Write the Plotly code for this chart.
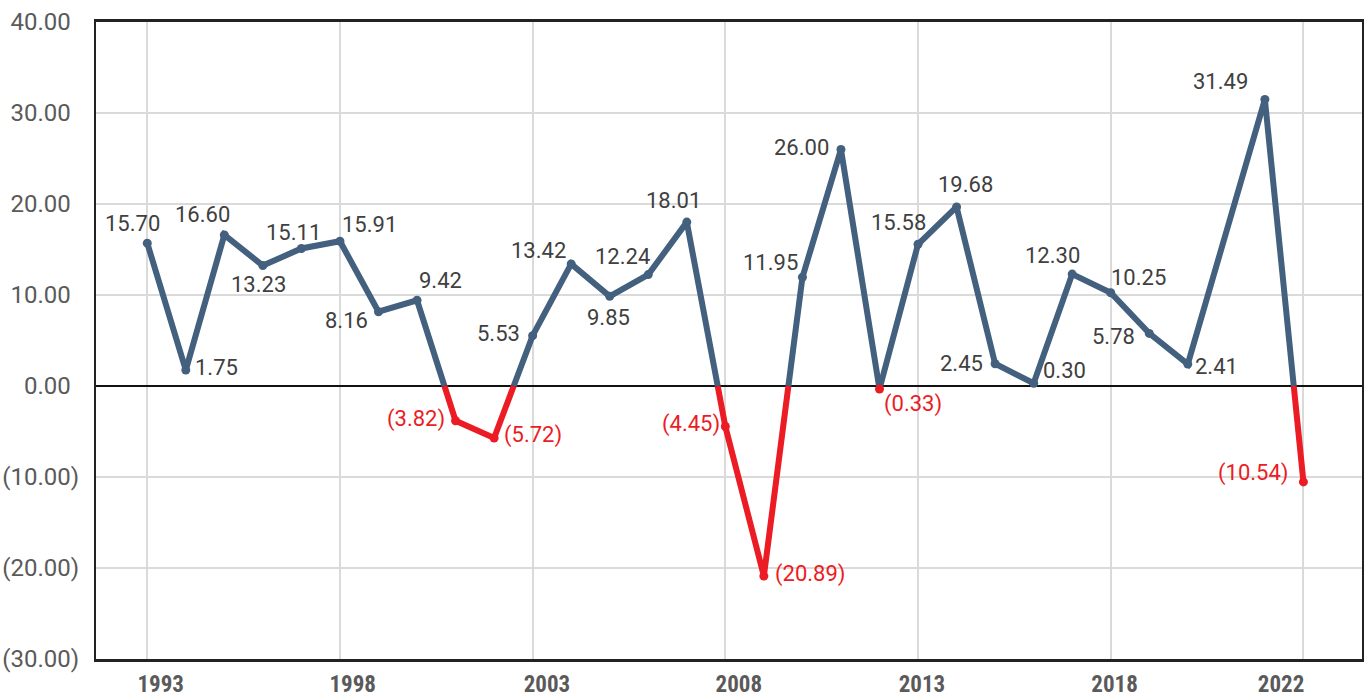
import plotly.graph_objects as go

# ---------------- data ----------------
years = ["1993", "1994", "1995", "1996", "1997", "1998", "1999", "2000", "2001", "2002",
         "2003", "2004", "2005", "2006", "2007", "2008", "2009", "2010", "2011", "2012",
         "2013", "2014", "2015", "2016", "2017", "2018", "2019", "2020", "", "2021", "2022"]
values = [15.70, 1.75, 16.60, 13.23, 15.11, 15.91, 8.16, 9.42, -3.82, -5.72,
          5.53, 13.42, 9.85, 12.24, 18.01, -4.45, -20.89, 11.95, 26.00, -0.33,
          15.58, 19.68, 2.45, 0.30, 12.30, 10.25, 5.78, 2.41, None, 31.49, -10.54]
label_every = 5
y_ticks = [40, 30, 20, 10, 0, -10, -20, -30]

# ---------------- styling / label placement (pixels) ----------------
BLUE = "#44607F"
RED = "#EC1C24"
TXT = "#404040"
AX_TXT = "#5A5A5A"
label_offsets = [(-15, -20), (31, -3), (-22, -20), (-4, 19), (-8, -16), (30, -17),
                 (-32, 9), (23, -20), (-40, -2), (39, -3), (-34, -2), (-33, -13),
                 (-1, 21), (-26, -18), (-13, -22), (-34, -3), (46, -2), (-32, -15),
                 (-39, -2), (34, 15), (-20, -22), (9, -22), (-34, 0), (31, -13),
                 (-20, -19), (28, -15), (-36, 3), (29, 2), None, (-44, -18), (-50, -9)]
xlabel_nudge = [0.35, 0.33, 0.37, 0.35, 0.1, 0.1, -0.58]


def fmt(v):
    return f"({abs(v):.2f})" if v < 0 else f"{v:.2f}"


def fmt_axis(v):
    # accounting style: positives keep room for the closing parenthesis
    return f"({abs(v):.2f})" if v < 0 else f"{v:.2f}\u00a0\u200a"


x_idx = list(range(len(years)))
pts = [(i, v) for i, v in zip(x_idx, values) if v is not None]

# split the polyline at zero crossings
runs = []
cur_pos = pts[0][1] >= 0
cx, cy = [pts[0][0]], [pts[0][1]]
for (x0, y0), (x1, y1) in zip(pts[:-1], pts[1:]):
    pos1 = y1 >= 0
    if pos1 != cur_pos:
        xc = x0 + (x1 - x0) * (y0 / (y0 - y1))
        cx.append(xc)
        cy.append(0)
        runs.append((cur_pos, cx, cy))
        cur_pos = pos1
        cx, cy = [xc], [0]
    cx.append(x1)
    cy.append(y1)
runs.append((cur_pos, cx, cy))

fig = go.Figure()
for positive in (True, False):
    xs, ys = [], []
    for p, rx, ry in runs:
        if p == positive:
            xs += rx + [None]
            ys += ry + [None]
    fig.add_trace(go.Scatter(
        x=xs, y=ys, mode="lines", connectgaps=False, hoverinfo="skip",
        line=dict(color=BLUE if positive else RED, width=6),
        showlegend=False))

fig.add_trace(go.Scatter(
    x=[p[0] for p in pts], y=[p[1] for p in pts], mode="markers",
    marker=dict(size=9, color=[BLUE if p[1] >= 0 else RED for p in pts]),
    showlegend=False, hoverinfo="skip"))

annotations = []
for i, v in zip(x_idx, values):
    if v is None:
        continue
    dx, dy = label_offsets[i]
    annotations.append(dict(
        x=i, y=v, xref="x", yref="y", text=fmt(v), showarrow=False,
        xshift=dx, yshift=-dy,
        font=dict(family="Roboto, Arial, sans-serif", size=22,
                  color=RED if v < 0 else TXT)))

tick_pos = list(range(0, len(years), label_every))
tickvals = [t + n for t, n in zip(tick_pos, xlabel_nudge)]
ticktext = [years[t] for t in tick_pos]

fig.update_layout(
    width=1370, height=698,
    margin=dict(l=96, r=8, t=22, b=39),
    paper_bgcolor="white", plot_bgcolor="white",
    annotations=annotations,
    xaxis=dict(
        range=[-1.33, 31.52], showgrid=False, zeroline=False, automargin=False,
        tickvals=tickvals, ticktext=ticktext, ticks="",
        tickfont=dict(family="Roboto Condensed, Liberation Sans Narrow, Roboto, sans-serif",
                      size=23, color=AX_TXT, weight="bold"),
        ticklabelstandoff=3,
        minor=dict(showgrid=True, tick0=0, dtick=label_every,
                   gridcolor="#DADADA", gridwidth=2),
        showline=True, mirror=True, linecolor="#222222", linewidth=2.5),
    yaxis=dict(
        range=[-30, 40], tickvals=y_ticks, ticktext=[fmt_axis(v) for v in y_ticks],
        showgrid=True, gridcolor="#DADADA", gridwidth=2, automargin=False,
        zeroline=True, zerolinecolor="#111111", zerolinewidth=2,
        tickfont=dict(family="Roboto, Arial, sans-serif", size=24, color=AX_TXT),
        ticks="", ticklabelstandoff=10,
        showline=True, mirror=True, linecolor="#222222", linewidth=2),
)

# remove the browser's default 8px body margin so the figure fills the window
fig.write_html("out.html", config={"displayModeBar": False},
               post_script="document.body.style.margin='0';document.body.style.overflow='hidden';")
